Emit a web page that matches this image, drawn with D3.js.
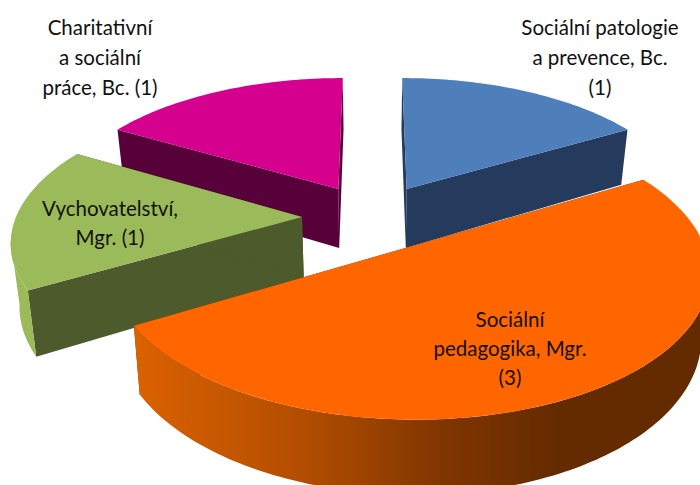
<!DOCTYPE html>
<html>
<head>
<meta charset="utf-8">
<script src="https://cdn.jsdelivr.net/npm/d3@7"></script>
<style>
  html, body { margin: 0; padding: 0; background: #fff; }
  svg { display: block; }
</style>
</head>
<body>
<svg id="chart" width="700" height="485"></svg>
<script>
const categories = ["Sociální patologie a prevence, Bc.", "Sociální pedagogika, Mgr.", "Vychovatelství, Mgr.", "Charitativní a sociální práce, Bc."];
const counts = [1, 3, 1, 1];
const label_lines = [
    ["Sociální patologie", "a prevence, Bc.", "(1)"],
    ["Sociální", "pedagogika, Mgr.", "(3)"],
    ["Vychovatelství,", "Mgr. (1)"],
    ["Charitativní", "a sociální", "práce, Bc. (1)"]
];
const top_colours = ["#4e7fbb", "#ff6600", "#9bba59", "#d6008f"];
const wall_colours = ["#253b5e", "#662b00", "#4d5a2c", "#57003a"];

const width = 700, height = 485;

// perspective of the tilted disc, fitted by eye to the picture
const cx = 372.5, cy = 217;
const camera = 1860, tilt = 0.475, depth = 61, explode = 70.5, shrink = 0.0004;
const radius = d3.scaleLinear().domain([0, 1]).range([0, 286]);

function project(slice, angle, r, z = 0) {
    let mid = (slice.startAngle + slice.endAngle) / 2;
    let X = explode * Math.sin(mid) + r * Math.sin(angle);
    let Y = -explode * Math.cos(mid) - r * Math.cos(angle);
    let s = camera / (camera - Y);
    return [cx + X * s * (1 - shrink * z), cy + (tilt * Y + z) * s];
}

const svg = d3.select("#chart").attr("viewBox", `0 0 ${width} ${height}`);
const line = d3.line();
const pie = d3.pie().sort(null)(counts);

const defs = svg.append("defs");
const orange_wall = defs.append("linearGradient")
    .attr("id", "orange_wall")
    .attr("gradientUnits", "userSpaceOnUse")
    .attr("x1", 135).attr("x2", 700).attr("y1", 0).attr("y2", 0);
[[0, "#db6200"], [0.3, "#b24d00"], [0.55, "#7f3500"], [0.75, "#642b00"], [1, "#642b00"]].forEach(([o, c]) => {
    orange_wall.append("stop").attr("offset", o).attr("stop-color", c);
});

function arcPoints(slice, from, to, z) {
    let n = Math.max(2, Math.ceil((to - from) / 0.02));
    return d3.range(n + 1).map(i => project(slice, from + (to - from) * i / n, radius(1), z));
}

function drawSlice(i) {
    let slice = pie[i];
    let a0 = slice.startAngle, a1 = slice.endAngle;
    let g = svg.append("g").attr("class", "slice");
    let R = radius(1);

    // cut faces
    [a0, a1].forEach(a => {
        g.append("path")
            .attr("fill", wall_colours[i])
            .attr("d", line([
                project(slice, a, 0, 0), project(slice, a, R, 0),
                project(slice, a, R, depth), project(slice, a, 0, depth)
            ]) + "Z");
    });

    // rim, stops at the silhouette (about 10 deg past the sides) or the path folds over itself
    let from = Math.max(a0, Math.PI * 100 / 180), to = Math.min(a1, Math.PI * 260 / 180);
    if (to > from) {
        let rim_fill = i === 1 ? "url(#orange_wall)" : top_colours[i];
        g.append("path")
            .attr("fill", rim_fill)
            .attr("d", line(arcPoints(slice, from, to, 0).concat(arcPoints(slice, from, to, depth).reverse())) + "Z");
    }

    // top
    g.append("path")
        .attr("fill", top_colours[i])
        .attr("d", line([project(slice, a0, 0, 0)].concat(arcPoints(slice, a0, a1, 0))) + "Z");
}

// back slices first
[3, 0, 2, 1].forEach(drawSlice);

const label_anchor = [[600, 35], [510, 327], [110, 216], [100, 35]];
const line_step = [30, 29, 29, 30];

label_lines.forEach((lines, i) => {
    svg.append("text")
        .attr("class", "label")
        .attr("text-anchor", "middle")
        .attr("font-family", "Lato, 'Open Sans', sans-serif")
        .attr("font-size", 20.5)
        .attr("fill", "#111")
        .selectAll("tspan")
        .data(lines)
        .join("tspan")
        .attr("x", label_anchor[i][0])
        .attr("y", (d, j) => label_anchor[i][1] + j * line_step[i])
        .text(d => d);
});
</script>
</body>
</html>
